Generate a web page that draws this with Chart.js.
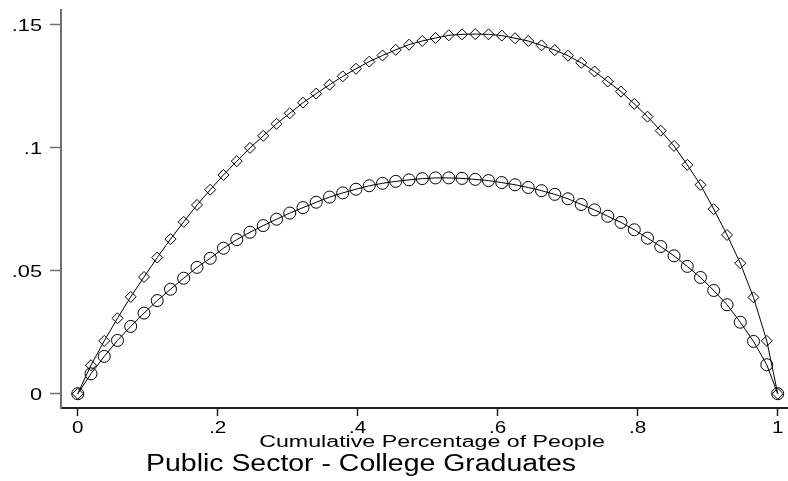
<!DOCTYPE html>
<html>
<head>
<meta charset="utf-8">
<script src="https://cdn.jsdelivr.net/npm/chart.js@4"></script>
<style>
  html, body { margin: 0; padding: 0; background: #fff; }
  #wrap { width: 788px; height: 481px; }
</style>
</head>
<body>
<div id="wrap"><canvas id="chart-curves" width="788" height="481"></canvas></div>
<script>
// cumulative share of people (x) for each point
const xValues = [
  0, 0.0189, 0.0379, 0.0568, 0.0757, 0.0947, 0.1136, 0.1325, 0.1514, 0.1704,
  0.1893, 0.2082, 0.2272, 0.2461, 0.2650, 0.2840, 0.3029, 0.3218, 0.3407, 0.3597,
  0.3786, 0.3975, 0.4165, 0.4354, 0.4543, 0.4733, 0.4922, 0.5111, 0.5300, 0.5490,
  0.5679, 0.5868, 0.6058, 0.6247, 0.6436, 0.6626, 0.6815, 0.7004, 0.7193, 0.7383,
  0.7572, 0.7761, 0.7951, 0.8140, 0.8329, 0.8519, 0.8708, 0.8897, 0.9086, 0.9276,
  0.9465, 0.9654, 0.9844, 1
];
// upper curve (diamonds)
const diamondValues = [
  0, 0.0116, 0.0215, 0.0307, 0.0394, 0.0475, 0.0554, 0.0629, 0.0699, 0.0768,
  0.0830, 0.0890, 0.0946, 0.1000, 0.1049, 0.1098, 0.1141, 0.1184, 0.1221, 0.1257,
  0.1291, 0.1322, 0.1351, 0.1376, 0.1399, 0.1420, 0.1435, 0.1447, 0.1458, 0.1462,
  0.1463, 0.1462, 0.1457, 0.1446, 0.1435, 0.1417, 0.1398, 0.1375, 0.1346, 0.1311,
  0.1270, 0.1229, 0.1179, 0.1127, 0.1070, 0.1008, 0.0931, 0.0850, 0.0751, 0.0646,
  0.0531, 0.0392, 0.0215, 0
];
// lower curve (circles)
const circleValues = [
  0, 0.0081, 0.0152, 0.0217, 0.0274, 0.0328, 0.0379, 0.0425, 0.0470, 0.0514,
  0.0551, 0.0592, 0.0627, 0.0657, 0.0684, 0.0710, 0.0735, 0.0757, 0.0779, 0.0800,
  0.0817, 0.0832, 0.0846, 0.0856, 0.0864, 0.0870, 0.0875, 0.0878, 0.0878, 0.0876,
  0.0872, 0.0867, 0.0859, 0.0850, 0.0839, 0.0826, 0.0811, 0.0793, 0.0770, 0.0748,
  0.0722, 0.0697, 0.0667, 0.0633, 0.0599, 0.0561, 0.0518, 0.0473, 0.0420, 0.0362,
  0.0291, 0.0213, 0.0118, 0
];
const xTicks = [0, 0.2, 0.4, 0.6, 0.8, 1];
const xTickLabels = ["0", ".2", ".4", ".6", ".8", "1"];
const yTicks = [0, 0.05, 0.1, 0.15];
const yTickLabels = ["0", ".05", ".1", ".15"];
const xTitle = "Cumulative Percentage of People";
const chartTitle = "Public Sector - College Graduates";

const FONT = '"Liberation Sans", Arial, sans-serif';

const toPoints = (ys) => xValues.map((x, i) => ({ x: x, y: ys[i] }));

// text in the reference is stretched sideways, so draw it with a scale
function wideText(ctx, text, x, y, size, stretch, align) {
    ctx.save();
    ctx.font = size + "px " + FONT;
    ctx.fillStyle = "#000";
    ctx.textBaseline = "alphabetic";
    const w = ctx.measureText(text).width * stretch;
    let left = x;
    if (align === "center") left = x - w / 2;
    if (align === "right") left = x - w;
    ctx.translate(left, y);
    ctx.scale(stretch, 1);
    ctx.textAlign = "left";
    ctx.fillText(text, 0, 0);
    ctx.restore();
}

const labelsPlugin = {
    id: "stataLabels",
    afterDraw(chart) {
        const ctx = chart.ctx;
        const xs = chart.scales.x;
        const ys = chart.scales.y;
        yTicks.forEach((v, i) => {
            wideText(ctx, yTickLabels[i], 42, ys.getPixelForValue(v) + 6, 16.5, 1.32, "right");
        });
        xTicks.forEach((v, i) => {
            wideText(ctx, xTickLabels[i], xs.getPixelForValue(v), 433, 16.5, 1.25, "center");
        });
        wideText(ctx, xTitle, 432, 447, 16, 1.45, "center");
        wideText(ctx, chartTitle, 361, 471, 23.5, 1.21, "center");
    },
};

const ctx = document.getElementById("chart-curves").getContext("2d");
new Chart(ctx, {
    type: "scatter",
    data: {
        datasets: [
            {
                label: "upper",
                data: toPoints(diamondValues),
                showLine: true,
                borderColor: "#000",
                borderWidth: 1,
                pointStyle: "rectRot",
                pointRadius: 5.5,
                pointBorderWidth: 1,
                pointBorderColor: "#000",
                pointBackgroundColor: "rgba(0,0,0,0)",
                tension: 0,
            },
            {
                label: "lower",
                data: toPoints(circleValues),
                showLine: true,
                borderColor: "#000",
                borderWidth: 1,
                pointStyle: "circle",
                pointRadius: 6,
                pointBorderWidth: 1,
                pointBorderColor: "#000",
                pointBackgroundColor: "rgba(0,0,0,0)",
                tension: 0,
            },
        ],
    },
    options: {
        responsive: false,
        animation: false,
        layout: { autoPadding: false, padding: { top: 10, right: 0, bottom: 0, left: 0 } },
        plugins: {
            legend: { display: false },
            tooltip: { enabled: false },
            title: { display: false },
        },
        scales: {
            x: {
                type: "linear",
                min: -0.0239,
                max: 1.0147,
                afterBuildTicks: (s) => { s.ticks = xTicks.map((v) => ({ value: v })); },
                afterFit: (s) => { s.height = 73; },
                ticks: { display: false },
                grid: {
                    drawOnChartArea: false,
                    drawTicks: true,
                    tickLength: 8,
                    tickColor: "#222",
                    tickWidth: 1.5,
                },
                border: { display: true, color: "#222", width: 2 },
            },
            y: {
                type: "linear",
                min: -0.0058,
                max: 0.1561,
                afterBuildTicks: (s) => { s.ticks = yTicks.map((v) => ({ value: v })); },
                afterFit: (s) => { s.width = 61; },
                ticks: { display: false },
                grid: {
                    drawOnChartArea: false,
                    drawTicks: true,
                    tickLength: 11,
                    tickColor: "#707070",
                    tickWidth: 1.5,
                },
                border: { display: true, color: "#707070", width: 2 },
            },
        },
    },
    plugins: [labelsPlugin],
});
</script>
</body>
</html>
